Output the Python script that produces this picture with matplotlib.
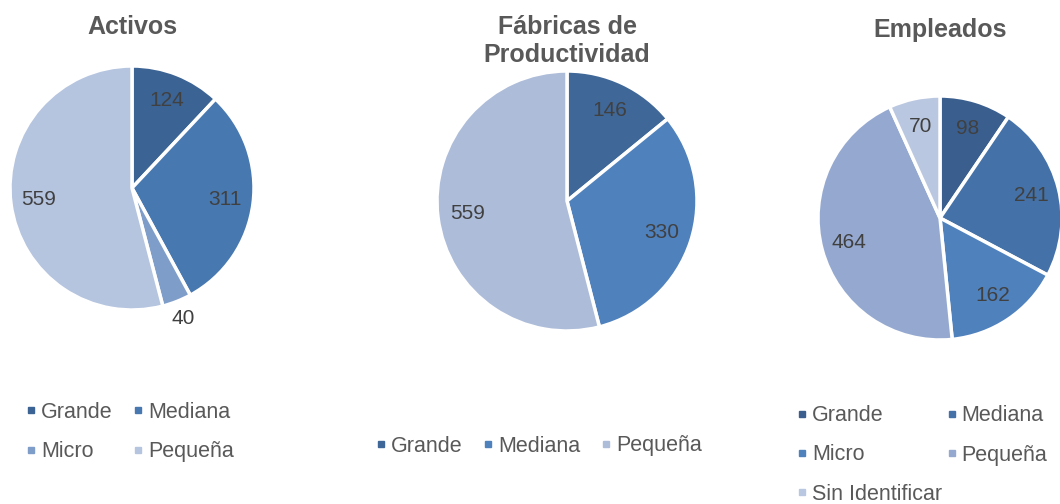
import numpy as np
import matplotlib
matplotlib.use("Agg")
import matplotlib.pyplot as plt
from matplotlib.lines import Line2D

plt.rcParams['font.family'] = ['Liberation Sans', 'DejaVu Sans']

# datos
cat_activos = ["Grande", "Mediana", "Micro", "Pequeña"]
val_activos = [124, 311, 40, 559]

cat_fabricas = ["Grande", "Mediana", "Pequeña"]
val_fabricas = [146, 330, 559]

cat_empleados = ["Grande", "Mediana", "Micro", "Pequeña", "Sin Identificar"]
val_empleados = [98, 241, 162, 464, 70]

col_activos = ["#3b6393", "#4878b0", "#7f9dc9", "#b5c4df"]
col_fabricas = ["#3f6798", "#4f81bd", "#adbcd9"]
col_empleados = ["#3a5f8f", "#4472a8", "#4f81bd", "#95a9d0", "#bac7e0"]

W, H = 1060, 504
fig = plt.figure(figsize=(W / 100, H / 100), dpi=100)


def px_axes(cx, cy, r):
    # ejes cuadrados a partir del centro y radio en pixeles
    return fig.add_axes([(cx - r) / W, (H - cy - r) / H, 2 * r / W, 2 * r / H])


def dibujar_pie(ax, valores, colores, titulo, titulo_y):
    wedges, _ = ax.pie(valores, colors=colores, startangle=90, counterclock=False,
                       radius=1, wedgeprops=dict(edgecolor='white', linewidth=2.5))
    total = sum(valores)
    for w, v in zip(wedges, valores):
        ang = np.deg2rad((w.theta1 + w.theta2) / 2)
        d = 1.15 if v / total < 0.05 else 0.77
        ax.text(d * np.cos(ang), d * np.sin(ang), str(v), ha='center', va='center',
                fontsize=15, color='#404040')
    ax.set_xlim(-1, 1)
    ax.set_ylim(-1, 1)
    ax.set_aspect('equal')
    ax.axis('off')
    ax.text(0, titulo_y, titulo, ha='center', va='center', fontsize=18,
            fontweight='bold', color='#595959', transform=ax.transData)


def leyenda(cats, colores, orden, ncol, x, y, colsp):
    handles = [Line2D([], [], marker='s', linestyle='', color=colores[i], markersize=5)
               for i in orden]
    labels = [cats[i] for i in orden]
    fig.legend(handles, labels, loc='center left', bbox_to_anchor=(x / W, 1 - y / H),
               ncol=ncol, frameon=False, fontsize=15.5, labelcolor='#595959',
               handlelength=0.4, handletextpad=0.25, borderpad=0, borderaxespad=0,
               columnspacing=colsp, labelspacing=0.85)


ax1 = px_axes(132, 188, 122)
dibujar_pie(ax1, val_activos, col_activos, "Activos", 1.32)

ax2 = px_axes(567, 201, 130)
dibujar_pie(ax2, val_fabricas, col_fabricas, "Fábricas de\nProductividad", 1.23)

ax3 = px_axes(940, 218, 122)
dibujar_pie(ax3, val_empleados, col_empleados, "Empleados", 1.54)

leyenda(cat_activos, col_activos, [0, 2, 1, 3], 2, 27, 432, 1.0)
leyenda(cat_fabricas, col_fabricas, [0, 1, 2], 3, 377, 446, 1.0)
leyenda(cat_empleados, col_empleados, [0, 2, 4, 1, 3], 2, 798, 455, 0.25)

fig.savefig("out.png", dpi=100)
